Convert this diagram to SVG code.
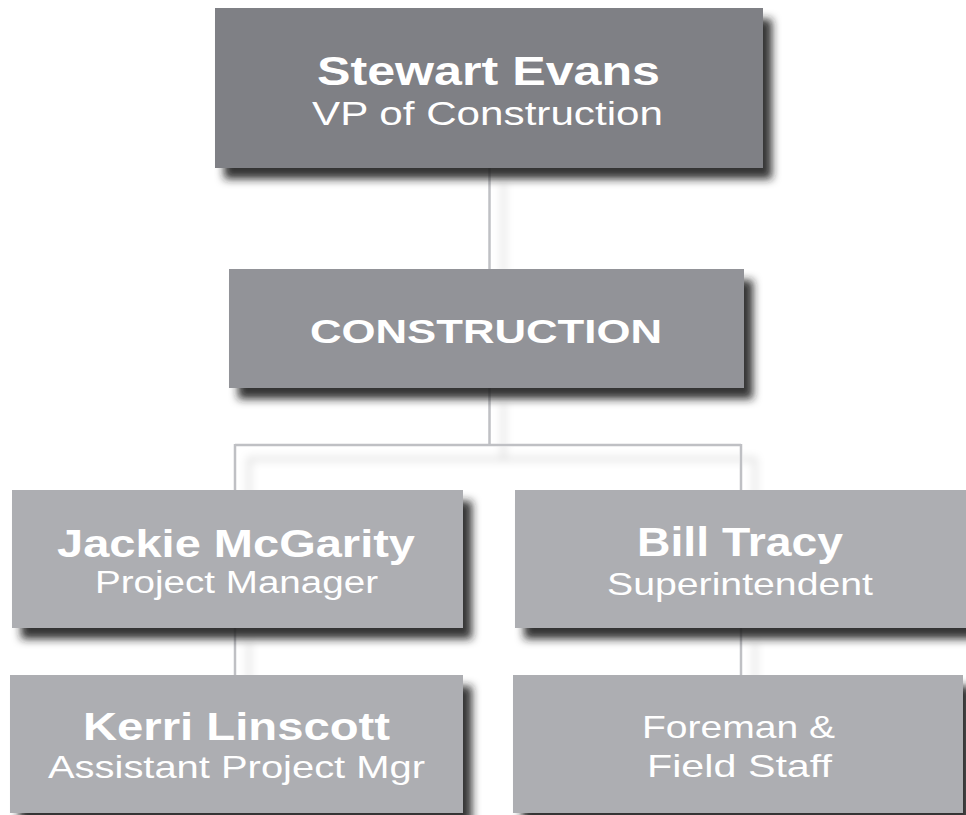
<svg xmlns="http://www.w3.org/2000/svg" width="966" height="815" viewBox="0 0 966 815">
<defs>
<filter id="boxShadow" x="-10%" y="-20%" width="130%" height="150%">
<feDropShadow dx="9" dy="11" stdDeviation="4.5" flood-color="#1e1e1e" flood-opacity="0.9"/>
</filter>
<filter id="lineShadow" x="-20%" y="-20%" width="140%" height="140%">
<feDropShadow dx="14" dy="14" stdDeviation="4.5" flood-color="#000" flood-opacity="0.2"/>
</filter>
</defs>
<style>
.box{filter:url(#boxShadow);}
.b1{fill:#7f8085;}
.b2{fill:#929398;}
.b3{fill:#adaeb2;}
.name{font-family:"Liberation Sans",Arial,sans-serif;font-weight:bold;fill:#ffffff;text-anchor:middle;}
.sub{font-family:"Liberation Sans",Arial,sans-serif;font-weight:normal;fill:#ffffff;text-anchor:middle;}
.conn{stroke:#bfc0c4;stroke-width:2.5;fill:none;}
</style>
<rect width="966" height="815" fill="#ffffff"/>
<g id="connectors" filter="url(#lineShadow)">
<path class="conn" d="M489.5 168 V269"/>
<path class="conn" d="M489.5 388 V445 M235 445 H741 M235 444 V490 M741 444 V490"/>
<path class="conn" d="M235 628 V675"/>
<path class="conn" d="M741 628 V675"/>
</g>
<g id="node-stewart">
<rect class="box b1" x="215" y="8" width="548" height="160"/>
<text class="name" x="488.5" y="85" font-size="41" textLength="343" lengthAdjust="spacingAndGlyphs">Stewart Evans</text>
<text class="sub" x="487.5" y="125" font-size="33" textLength="351" lengthAdjust="spacingAndGlyphs">VP of Construction</text>
</g>
<g id="node-construction">
<rect class="box b2" x="229" y="269" width="515" height="119"/>
<text class="name" x="486" y="343" font-size="33" textLength="352" lengthAdjust="spacingAndGlyphs">CONSTRUCTION</text>
</g>
<g id="node-jackie">
<rect class="box b3" x="12" y="490" width="451" height="138"/>
<text class="name" x="236" y="557" font-size="39" textLength="358" lengthAdjust="spacingAndGlyphs">Jackie McGarity</text>
<text class="sub" x="236.5" y="593" font-size="31" textLength="283" lengthAdjust="spacingAndGlyphs">Project Manager</text>
</g>
<g id="node-bill">
<rect class="box b3" x="515" y="490" width="455" height="138"/>
<text class="name" x="740" y="556" font-size="40" textLength="206" lengthAdjust="spacingAndGlyphs">Bill Tracy</text>
<text class="sub" x="740" y="595" font-size="32" textLength="266" lengthAdjust="spacingAndGlyphs">Superintendent</text>
</g>
<g id="node-kerri">
<rect class="box b3" x="10" y="675" width="453" height="138"/>
<text class="name" x="236.5" y="740" font-size="39" textLength="307" lengthAdjust="spacingAndGlyphs">Kerri Linscott</text>
<text class="sub" x="236.5" y="778" font-size="32" textLength="377" lengthAdjust="spacingAndGlyphs">Assistant Project Mgr</text>
</g>
<g id="node-foreman">
<rect class="box b3" x="513" y="675" width="450" height="138"/>
<text class="sub" x="738.5" y="738" font-size="32" textLength="193" lengthAdjust="spacingAndGlyphs">Foreman &amp;</text>
<text class="sub" x="739.5" y="777" font-size="32" textLength="185" lengthAdjust="spacingAndGlyphs">Field Staff</text>
</g>
</svg>
